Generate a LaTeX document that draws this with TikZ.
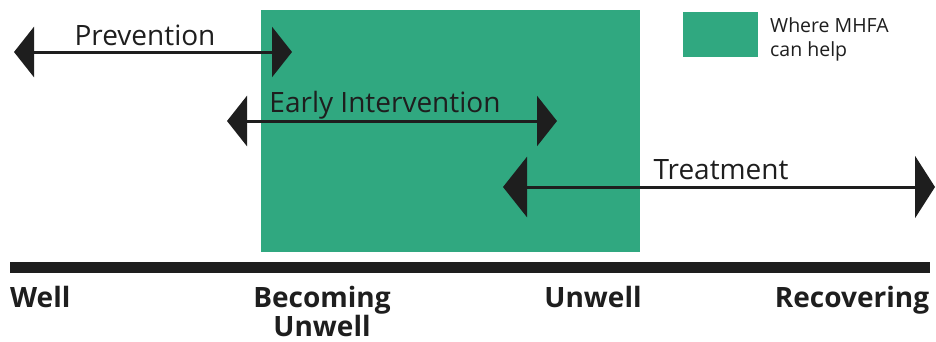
\documentclass[tikz,border=0pt]{standalone}
\usepackage{fontspec}
\setmainfont{Open Sans}
\usetikzlibrary{arrows.meta}
\definecolor{mhfa}{RGB}{48,168,128}
\definecolor{ink}{RGB}{30,30,30}
\tikzset{
  span/.style={draw=ink, line width=3pt,
    {Triangle[length=20pt,width=50pt]}-{Triangle[length=20pt,width=50pt]}},
  spanlabel/.style={text=ink, font=\fontsize{28}{30}\selectfont, inner sep=0pt, anchor=base},
  stage/.style={text=ink, font=\fontsize{28}{29}\selectfont\bfseries, inner sep=0pt, align=center, anchor=base},
  legendtext/.style={text=ink, font=\fontsize{19.5}{24}\selectfont, inner sep=0pt, align=left, anchor=base west}
}
\begin{document}
\begin{tikzpicture}[x=1pt,y=-1pt]
\useasboundingbox (0,0) rectangle (936,341);
\fill[white] (0,0) rectangle (936,341);

% shaded zone and legend
\fill[mhfa] (261,10) rectangle (640,252);
\fill[mhfa] (683,12) rectangle (758,57);
\node[legendtext] (legend) at (770,56) {Where MHFA\\can help};

% timeline bar
\coordinate (barL) at (10,267);
\coordinate (barR) at (930,267);
\draw[ink, line width=11pt] (barL) -- (barR);

% spans
\coordinate (prevL) at (14,52);
\coordinate (prevR) at (292,52);
\draw[span] (prevL) -- (prevR);
\node[spanlabel] (prev) at (145,45) {Prevention};

\coordinate (earlyL) at (227,121);
\coordinate (earlyR) at (557,121);
\draw[span] (earlyL) -- (earlyR);
\node[spanlabel] (early) at (385,112) {Early Intervention};

\coordinate (treatL) at (503,187);
\coordinate (treatR) at (935,187);
\draw[span, {Triangle[length=24pt,width=60pt]}-{Triangle[length=20pt,width=62pt]}] (treatL) -- (treatR);
\node[spanlabel] (treat) at (721,179) {Treatment};

% stage labels
\node[stage, anchor=base west] (well) at (10,307) {Well};
\node[stage] (becoming) at (322,336) {Becoming\\Unwell};
\node[stage] (unwell) at (593,307) {Unwell};
\node[stage] (recovering) at (852,307) {Recovering};
\end{tikzpicture}
\end{document}
